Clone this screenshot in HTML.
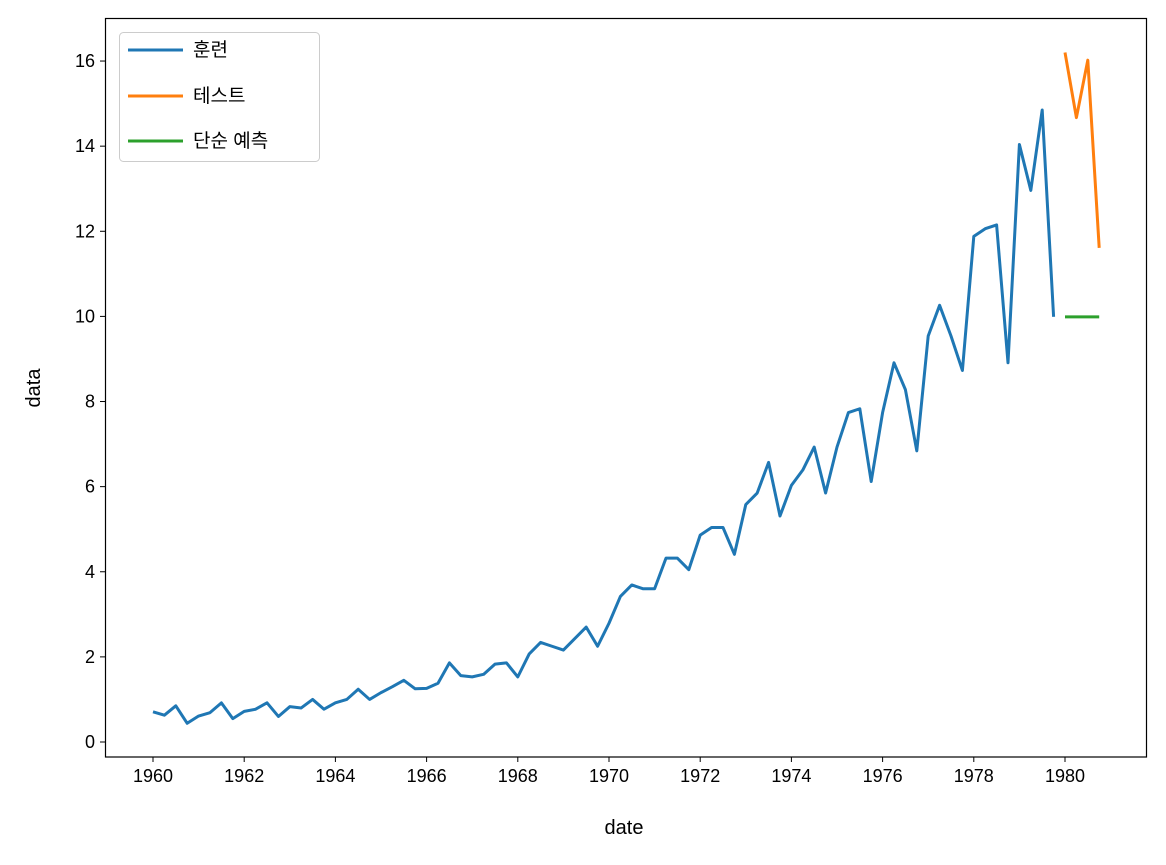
<!DOCTYPE html>
<html><head><meta charset="utf-8"><style>
body{margin:0;background:#fff;}
svg text{font-family:"Liberation Sans","Noto Sans CJK KR",sans-serif;font-size:18px;fill:#000;}
</style></head><body>
<svg id="s" width="1166" height="860" xmlns="http://www.w3.org/2000/svg">
<rect width="1166" height="860" fill="#fff"/>
<g id="g"></g>
<rect x="105.5" y="18.5" width="1041" height="738.5" fill="none" stroke="#000" stroke-width="1.2"/>
<text x="624" y="834" text-anchor="middle" font-size="20" style="font-size:20px">date</text>
<text transform="translate(40,388) rotate(-90)" text-anchor="middle" style="font-size:20px">data</text>
<rect x="119.5" y="32.5" width="200" height="129" rx="4" fill="#fff" stroke="#ccc" fill-opacity="0.8"/>
<line x1="128" y1="50" x2="183" y2="50" stroke="#1f77b4" stroke-width="3"/>
<text x="193" y="56" style="font-size:19px">훈련</text>
<line x1="128" y1="96" x2="183" y2="96" stroke="#ff7f0e" stroke-width="3"/>
<text x="193" y="102" style="font-size:19px">테스트</text>
<line x1="128" y1="141" x2="183" y2="141" stroke="#2ca02c" stroke-width="3"/>
<text x="193" y="147" style="font-size:19px">단순 예측</text>
</svg>
<script>
var d=[0.71,0.63,0.85,0.44,0.61,0.69,0.92,0.55,0.72,0.77,0.92,0.60,0.83,0.80,1.00,0.77,0.92,1.00,1.24,1.00,1.16,1.30,1.45,1.25,1.26,1.38,1.86,1.56,1.53,1.59,1.83,1.86,1.53,2.07,2.34,2.25,2.16,2.43,2.70,2.25,2.79,3.42,3.69,3.60,3.60,4.32,4.32,4.05,4.86,5.04,5.04,4.41,5.58,5.85,6.57,5.31,6.03,6.39,6.93,5.85,6.93,7.74,7.83,6.12,7.74,8.91,8.28,6.84,9.54,10.26,9.54,8.73,11.88,12.06,12.15,8.91,14.04,12.96,14.85,9.99,16.20,14.67,16.02,11.61];
function X(t){return 153+(t-1960)*45.6;}
function Y(v){return 742-v*42.56;}
var g=document.getElementById('g'),h='';
for(var y=0;y<=16;y+=2){h+='<line x1="100" x2="105" y1="'+Y(y)+'" y2="'+Y(y)+'" stroke="#000"/><text x="95" y="'+(Y(y)+6)+'" text-anchor="end">'+y+'</text>';}
for(var yr=1960;yr<=1980;yr+=2){h+='<line x1="'+X(yr)+'" x2="'+X(yr)+'" y1="757" y2="762" stroke="#000"/><text x="'+X(yr)+'" y="782" text-anchor="middle">'+yr+'</text>';}
function pl(a,b,c,vals){var p=[];for(var i=a;i<b;i++)p.push(X(1960+i*0.25)+','+Y(vals?vals[i]:d[i]));return '<polyline fill="none" stroke="'+c+'" stroke-width="3" stroke-linejoin="round" points="'+p.join(' ')+'"/>';}
h+=pl(0,80,'#1f77b4');h+=pl(80,84,'#ff7f0e');
var n=[];for(var i=0;i<84;i++)n.push(9.99);h+=pl(80,84,'#2ca02c',n);
g.innerHTML=h;
</script>
</body></html>
